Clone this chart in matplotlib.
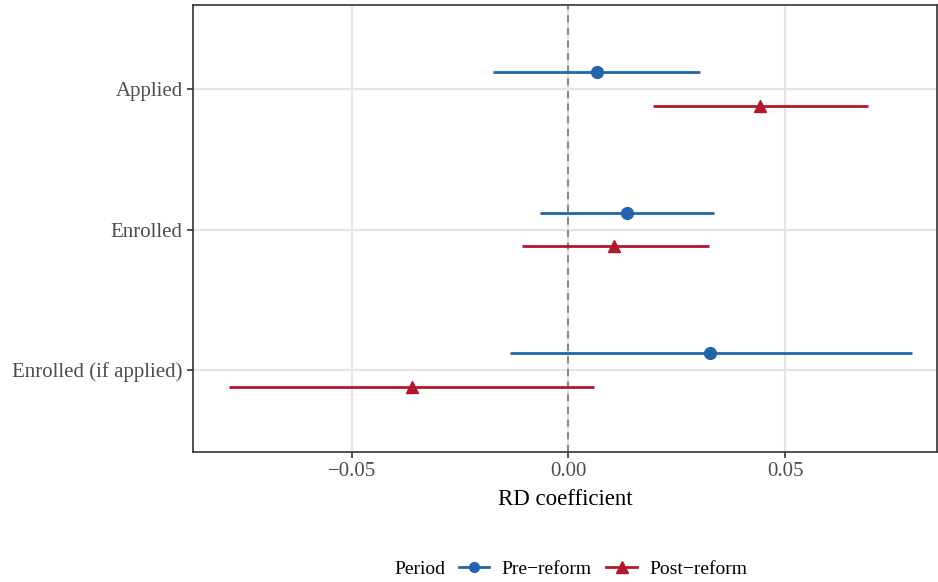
import matplotlib
matplotlib.use("Agg")
import matplotlib.pyplot as plt
import numpy as np
from matplotlib.lines import Line2D

plt.rcParams['font.family'] = ['Liberation Serif', 'DejaVu Serif']

categories = ["Applied", "Enrolled", "Enrolled (if applied)"]
periods = ["Pre\u2212reform", "Post\u2212reform"]
pre_est = [0.0065, 0.0136, 0.0327]
pre_lo = [-0.0175, -0.0065, -0.0136]
pre_hi = [0.0304, 0.0336, 0.0793]
post_est = [0.0442, 0.0106, -0.0362]
post_lo = [0.0194, -0.0108, -0.0783]
post_hi = [0.0691, 0.0323, 0.0060]

c_pre = "#2166AC"
c_post = "#B2182B"

W, H = 938, 582
fig = plt.figure(figsize=(W/100, H/100), dpi=100)
ax = fig.add_axes([193/W, 1-452/H, (937-193)/W, (452-5)/H])

ypos = np.array([3, 2, 1], dtype=float)
dodge = 0.12

ax.axvline(0, color="#7f7f7f", linestyle=(0, (4, 3)), lw=1.3, zorder=1)

for est, lo, hi, col, mk, off in [
    (pre_est, pre_lo, pre_hi, c_pre, "o", dodge),
    (post_est, post_lo, post_hi, c_post, "^", -dodge),
]:
    y = ypos + off
    ax.hlines(y, lo, hi, color=col, lw=2, zorder=3)
    ax.plot(est, y, linestyle="none", marker=mk, color=col, markersize=8.5, zorder=4)

ax.set_xlim(-0.0866, 0.085)
ax.set_ylim(0.416, 3.6)
ax.set_xticks([-0.05, 0.0, 0.05])
ax.set_xticklabels(["\u22120.05", "0.00", "0.05"])
ax.set_yticks(ypos)
ax.set_yticklabels(categories)
ax.grid(True, color="#e5e5e5", lw=1.6, zorder=0)
ax.set_axisbelow(True)
for s in ax.spines.values():
    s.set_color("#333333")
    s.set_linewidth(1.2)
ax.tick_params(axis="both", colors="#333333", labelcolor="#4d4d4d", labelsize=15, length=4, width=1.2)
ax.tick_params(axis="x", pad=3)
ax.set_xlabel("RD coefficient", fontsize=16.5, color="black", labelpad=6)

ly = 1 - 569/H
fig.text(394/W, ly, "Period", fontsize=14, ha="left", va="center")
handles = [
    Line2D([0], [0], color=c_pre, lw=2, marker="o", markersize=7),
    Line2D([0], [0], color=c_post, lw=2, marker="^", markersize=8),
]
leg = fig.legend(handles, periods, loc="center left", bbox_to_anchor=(459/W, ly),
                 ncol=2, frameon=False, fontsize=14, handlelength=1.55,
                 columnspacing=0.75, handletextpad=0.65, borderpad=0, borderaxespad=0)
fig.savefig("out.png", dpi=100)
